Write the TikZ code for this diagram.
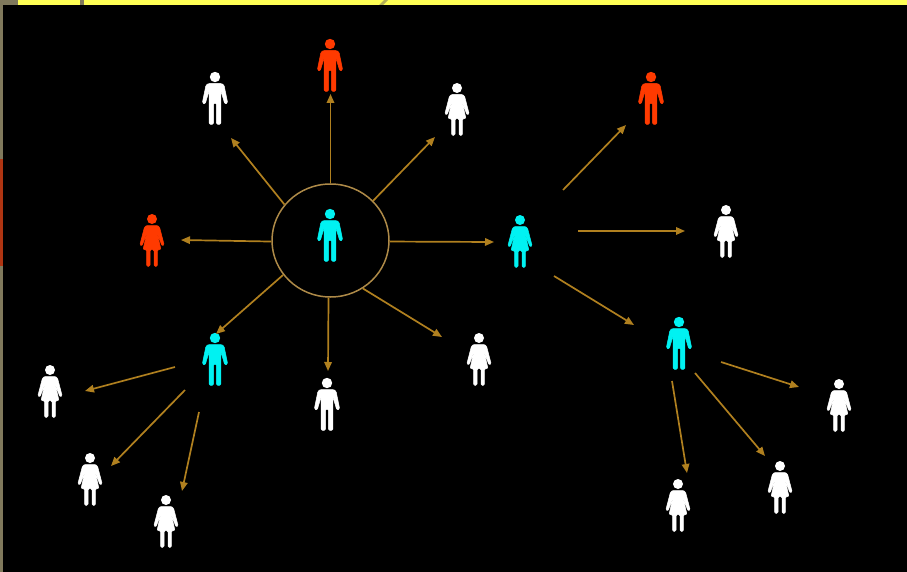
\documentclass[tikz,border=0pt]{standalone}
\usetikzlibrary{arrows.meta,shapes.geometric}
\definecolor{figred}{HTML}{FF3A00}
\definecolor{figcyan}{HTML}{00F2F2}
\definecolor{figwhite}{HTML}{FFFFFF}
\definecolor{link}{HTML}{B0801F}
\definecolor{ring}{HTML}{AE8A48}
\definecolor{barY}{HTML}{FFFF55}
\definecolor{edgeG}{HTML}{80795C}
\definecolor{edgeR}{HTML}{B03512}
\tikzset{
  x=1pt,y=-1pt,
  arrowlink/.style={draw=link,line width=1.7pt,-{Triangle[length=9pt,width=7.5pt]}},
  hubring/.style={ellipse,draw=ring,line width=1.5pt,minimum width=117pt,minimum height=113pt,inner sep=0pt},
  figbody/.style={fill=#1,draw=#1,line width=.5pt,line join=round,rounded corners=1.2pt},
  pics/man/.style={code={
    \fill[#1] (0,0) circle (5.2pt);
    \path[figbody=#1] (-6.5,6.5) -- (6.5,6.5) -- (9,8) -- (12.7,26) -- (9.8,27) -- (6,14)
      -- (5.8,47.3) -- (1.5,47.3) -- (1.4,26) -- (-1.4,26) -- (-1.5,47.3) -- (-5.8,47.3) -- (-6,14)
      -- (-9.8,27) -- (-12.7,26) -- (-9,8) -- cycle;
  }},
  pics/woman/.style={code={
    \fill[#1] (0,0) circle (5pt);
    \path[figbody=#1] (-5.5,6.5) -- (5.5,6.5) -- (7.5,8) -- (12.2,26) -- (10,27) -- (5,13.5)
      -- (9,30.7) -- (5.4,30.7) -- (5.4,47.3) -- (2,47.3) -- (2,30.7) -- (-2,30.7) -- (-2,47.3)
      -- (-5.4,47.3) -- (-5.4,30.7) -- (-9,30.7) -- (-5,13.5) -- (-10,27) -- (-12.2,26) -- (-7.5,8) -- cycle;
  }},
}
\begin{document}
\begin{tikzpicture}
\useasboundingbox (0,0) rectangle (907,572);
% frame of the screenshot
\fill[barY] (0,0) rectangle (907,5);
\fill[edgeG] (0,0) rectangle (18,5);
\fill[edgeG] (80,0) rectangle (84,5);
\fill[edgeG!60!barY] (379,5) -- (384,0) -- (388,0) -- (383,5) -- cycle;
\fill[edgeG] (0,0) rectangle (3,572);
\fill[edgeR] (0,159) rectangle (3,266);
\fill[black] (3,5) rectangle (907,572);

% figures
\pic (f1) at (330,44) {man=figred};
\pic (f2) at (215,77) {man=figwhite};
\pic (f3) at (457,88) {woman=figwhite};
\pic (f4) at (651,77) {man=figred};
\pic (f5) at (152,219) {woman=figred};
\pic (f6) at (330,214) {man=figcyan};
\pic (f7) at (520,220) {woman=figcyan};
\pic (f8) at (726,210) {woman=figwhite};
\pic (f9) at (215,338) {man=figcyan};
\pic (f10) at (679,322) {man=figcyan};
\pic (f11) at (479,338) {woman=figwhite};
\pic (f12) at (327,383) {man=figwhite};
\pic (f13) at (50,370) {woman=figwhite};
\pic (f14) at (90,458) {woman=figwhite};
\pic (f15) at (166,500) {woman=figwhite};
\pic (f16) at (839,384) {woman=figwhite};
\pic (f17) at (780,466) {woman=figwhite};
\pic (f18) at (678,484) {woman=figwhite};

% hub ring
\node[hubring] (hub) at (330.5,240.5) {};

% connector ends
\coordinate (e1) at (231,138);
\coordinate (e2) at (330.5,94);
\coordinate (e3) at (435,137);
\coordinate (e4) at (181,240);
\coordinate (e5) at (494,242);
\coordinate (e6) at (216,334);
\coordinate (e7) at (328,371);
\coordinate (e8) at (442,337);
\coordinate (s9) at (563,190);   \coordinate (e9) at (626,125);
\coordinate (s10) at (578,231);  \coordinate (e10) at (685,231);
\coordinate (s11) at (554,276);  \coordinate (e11) at (634,325);
\coordinate (s12) at (175,367);  \coordinate (e12) at (85,391);
\coordinate (s13) at (185,390);  \coordinate (e13) at (111,466);
\coordinate (s14) at (199,412);  \coordinate (e14) at (182,491);
\coordinate (s15) at (721,362);  \coordinate (e15) at (799,387);
\coordinate (s16) at (695,373);  \coordinate (e16) at (765,456);
\coordinate (s17) at (672,381);  \coordinate (e17) at (687,473);

% connectors
\draw[arrowlink] (hub.142) -- (e1);
\draw[arrowlink] (hub.90) -- (e2);
\draw[arrowlink] (hub.43) -- (e3);
\draw[arrowlink] (hub.181.5) -- (e4);
\draw[arrowlink] (hub.-1.5) -- (e5);
\draw[arrowlink] (hub.-144) -- (e6);
\draw[arrowlink] (hub.-92) -- (e7);
\draw[arrowlink] (hub.-56) -- (e8);
\draw[arrowlink] (s9) -- (e9);
\draw[arrowlink] (s10) -- (e10);
\draw[arrowlink] (s11) -- (e11);
\draw[arrowlink] (s12) -- (e12);
\draw[arrowlink] (s13) -- (e13);
\draw[arrowlink] (s14) -- (e14);
\draw[arrowlink] (s15) -- (e15);
\draw[arrowlink] (s16) -- (e16);
\draw[arrowlink] (s17) -- (e17);
\end{tikzpicture}
\end{document}
